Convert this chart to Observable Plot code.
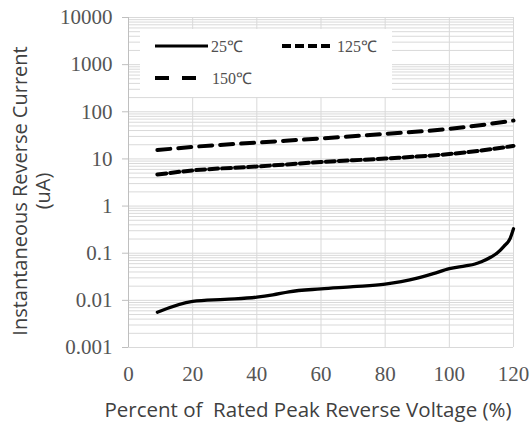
<!DOCTYPE html>
<html><head><meta charset="utf-8">
<script src="https://cdn.jsdelivr.net/npm/d3@7"></script>
<script src="https://cdn.jsdelivr.net/npm/@observablehq/plot@0.6"></script>
<style>body{margin:0;background:#fff;} #chart{position:relative;width:532px;height:426px;}</style>
</head><body><div id="chart"></div>
<script>
const pct25 = [9,20,30,40,45,50,60,70,80,85,90,95,100,105,108,110,113,115,117,119,120];
const cur25 = [0.0056,0.0095,0.0105,0.0117,0.0131,0.0152,0.0175,0.0195,0.0221,0.025,0.0295,0.0368,0.0472,0.054,0.059,0.066,0.083,0.102,0.14,0.21,0.33];
const pct125 = [9,20,40,60,80,100,110,120];
const cur125 = [4.67,5.7,6.9,8.6,10.2,12.7,15.1,18.9];
const pct150 = [9,20,40,60,80,100,120];
const cur150 = [15.4,18,22.2,27.2,34,43.3,65.2];
const xTicks = [0,20,40,60,80,100,120];
const yTicks = [0.001,0.01,0.1,1,10,100,1000,10000];
const yTickLabels = ["0.001","0.01","0.1","1","10","100","1000","10000"];
const seriesNames = ["25℃","125℃","150℃"];
const xLabel = "Percent of  Rated Peak Reverse Voltage (%)";
const yLabel1 = "Instantaneous Reverse Current";
const yLabel2 = "(uA)";

const d25 = pct25.map((p,i)=>({pct:p,cur:cur25[i]}));
const d125 = pct125.map((p,i)=>({pct:p,cur:cur125[i]}));
const d150 = pct150.map((p,i)=>({pct:p,cur:cur150[i]}));
const minor = yTicks.flatMap(d => d < 10000 ? [1,2,3,4,5,6,7,8,9].map(k => d*k) : [d]);
const dash125 = "9,4", dash150 = "13,8";
const labelOf = d => yTickLabels[Math.round(Math.log10(d)) + 3];

const plot = Plot.plot({
  width: 532, height: 426,
  marginLeft: 128, marginRight: 19, marginTop: 17, marginBottom: 79,
  style: {fontFamily: "'Liberation Serif', serif", fontSize: "21px", color: "#404040", background: "#fff"},
  x: {domain: [0, 120]},
  y: {type: "log", domain: [0.001, 10000]},
  marks: [
    Plot.ruleY(minor, {stroke: "#d9d9d9", strokeWidth: 1}),
    Plot.ruleX(xTicks.slice(1), {stroke: "#d9d9d9", strokeWidth: 1}),
    Plot.ruleX([0], {stroke: "#bfbfbf", strokeWidth: 1}),
    Plot.axisY(yTicks, {tickFormat: labelOf, tickSize: 6, tickPadding: 10, stroke: "#bfbfbf", fill: "#555", label: null}),
    Plot.axisX(xTicks, {tickSize: 0, tickPadding: 19, fill: "#555", label: null}),
    Plot.line(d150, {x: "pct", y: "cur", stroke: "#000", strokeWidth: 4, strokeDasharray: dash150, curve: "monotone-x"}),
    Plot.line(d125, {x: "pct", y: "cur", stroke: "#000", strokeWidth: 4, strokeDasharray: dash125, curve: "monotone-x"}),
    Plot.line(d25, {x: "pct", y: "cur", stroke: "#000", strokeWidth: 3.3, curve: "monotone-x"})
  ]
});
document.getElementById("chart").appendChild(plot);

const svg = d3.select(plot);
// axis titles
svg.append("text").attr("x", 308).attr("y", 417).attr("text-anchor", "middle")
  .style("white-space", "pre").attr("xml:space", "preserve")
  .attr("font-family", "'Open Sans', sans-serif").attr("font-size", 20.5).attr("fill", "#404040")
  .text(xLabel);
const yl = svg.append("g").attr("transform", "translate(27,191) rotate(-90)")
  .attr("font-family", "'Open Sans', sans-serif").attr("font-size", 20).attr("fill", "#404040").attr("text-anchor", "middle");
yl.append("text").attr("x", 0).attr("y", 0).text(yLabel1);
yl.append("text").attr("x", 0).attr("y", 23).text(yLabel2);

// legend
const lg = svg.append("g");
lg.append("rect").attr("x", 140).attr("y", 29).attr("width", 252).attr("height", 68).attr("fill", "#fff");
const items = [
  {name: seriesNames[0], x: 155, y: 46, w: 53, dash: null, sw: 3, tx: 211},
  {name: seriesNames[1], x: 282, y: 46, w: 52, dash: dash125, sw: 4, tx: 337},
  {name: seriesNames[2], x: 155, y: 78, w: 42, dash: "14,13", sw: 4, tx: 212}
];
items.forEach(it => {
  const l = lg.append("line").attr("x1", it.x).attr("x2", it.x + it.w).attr("y1", it.y).attr("y2", it.y)
    .attr("stroke", "#000").attr("stroke-width", it.sw);
  if (it.dash) l.attr("stroke-dasharray", it.dash);
  lg.append("text").attr("x", it.tx).attr("y", it.y + 6).attr("text-anchor", "start")
    .attr("font-family", "'Liberation Serif', serif").attr("font-size", 16).attr("fill", "#505050").text(it.name);
});
</script>
</body></html>
